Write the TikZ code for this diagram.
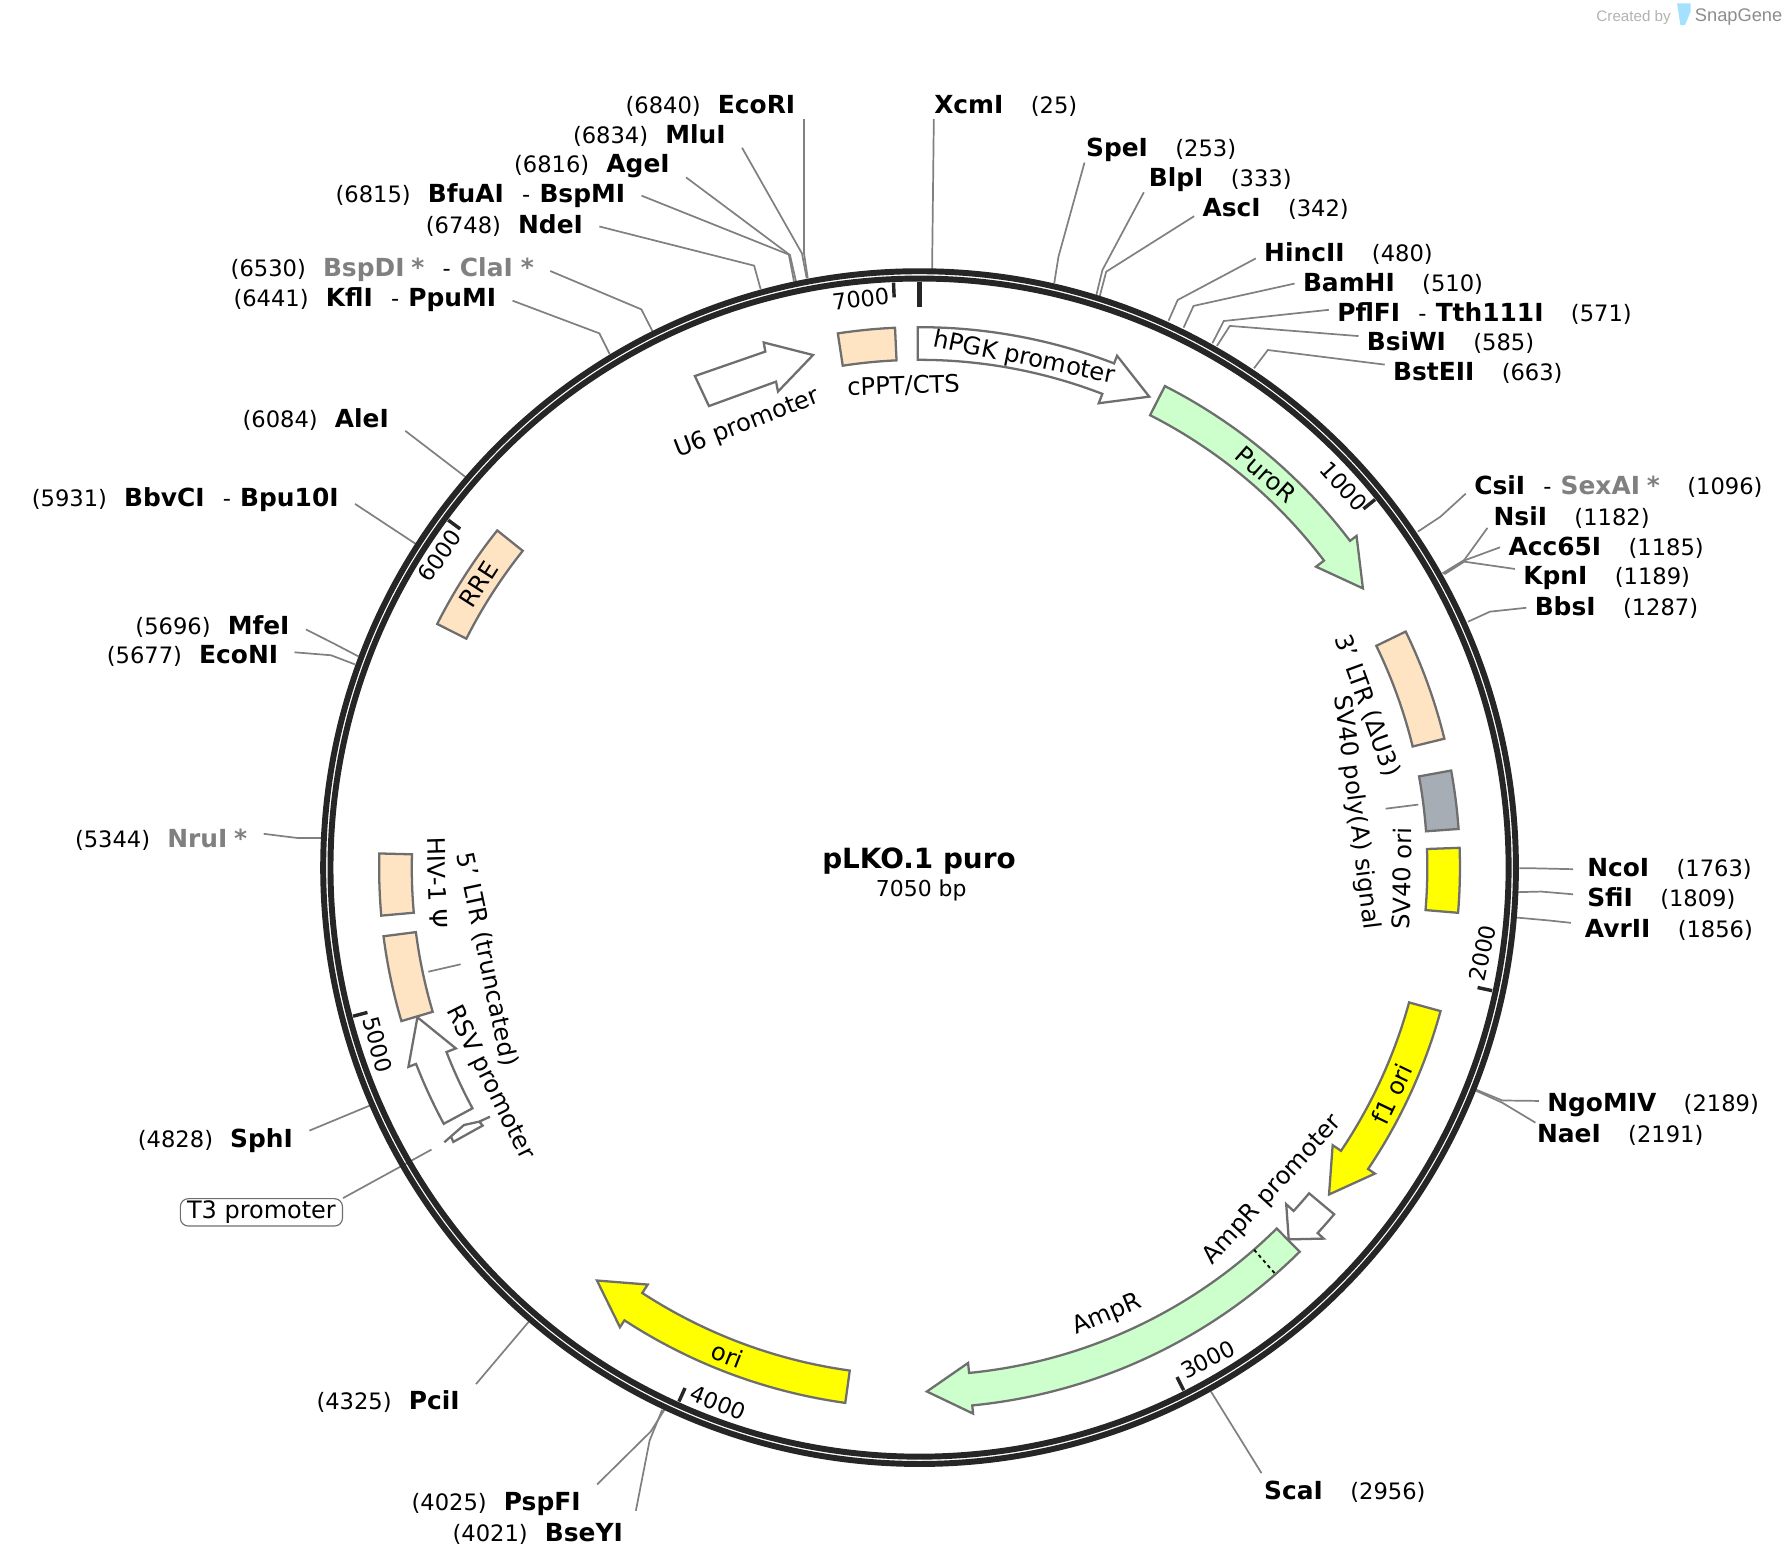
\documentclass[tikz,border=0pt]{standalone}
\usepackage{fontspec}
\setmainfont{DejaVu Sans}
\newfontfamily\logofont{Liberation Sans}
\usepackage{xcolor}
\usepackage{tikz}
\definecolor{ringcol}{HTML}{262626}
\definecolor{leadcol}{HTML}{808080}
\definecolor{edgecol}{HTML}{6E6E6E}
\definecolor{tancol}{HTML}{FFE4C4}
\definecolor{greencol}{HTML}{CCFFCC}
\definecolor{yellowcol}{HTML}{FFFF00}
\definecolor{slatecol}{HTML}{A6ADB5}
\tikzstyle{siteleft} = [anchor=east, yshift=-0.7pt, inner xsep=7pt, inner ysep=0pt, font=\fontsize{9.9}{12}\selectfont]
\tikzstyle{siteright} = [anchor=west, yshift=-0.7pt, inner xsep=3.5pt, inner ysep=0pt, font=\fontsize{9.9}{12}\selectfont]
\tikzstyle{leader} = [draw=leadcol, line width=0.75pt]
\tikzstyle{feature} = [draw=edgecol, line width=1pt, line join=miter]
\tikzstyle{flabel} = [inner sep=0pt, font=\fontsize{10.6}{12}\selectfont]
\tikzstyle{scalelabel} = [inner sep=0pt, font=\fontsize{9.8}{12}\selectfont]
\tikzstyle{tick} = [draw=ringcol, line width=1.5pt]
\newcommand{\enz}[1]{{\fontsize{10.9}{12}\selectfont\textbf{#1}}}
\newcommand{\off}[1]{{\fontsize{10.9}{12}\selectfont\textcolor{leadcol}{\textbf{#1}}}}
\newcommand{\lgap}{\hspace{7.5pt}}
\newcommand{\rgap}{\hspace{12pt}}
\newcommand{\dashgap}{\hspace{8pt}-\hspace{4pt}}
% a and b are angles clockwise from the top of the ring
\newcommand{\arcbox}[3]{\draw[feature, fill=#1] ({#2-90}:473.4) arc[start angle={#2-90}, end angle={#3-90}, radius=473.4] -- ({#3-90}:444.8) arc[start angle={#3-90}, end angle={#2-90}, radius=444.8] -- cycle;}
\newcommand{\arcarrow}[4]{\draw[feature, fill=#1] ({#2-90}:473.4) arc[start angle={#2-90}, end angle={#3-90}, radius=473.4] -- ({#3-90}:480.6) -- ({#4-90}:459) -- ({#3-90}:436) -- ({#3-90}:444.8) arc[start angle={#3-90}, end angle={#2-90}, radius=444.8] -- cycle;}

\begin{document}
\begin{tikzpicture}[x=0.5pt, y=-0.5pt]
	\useasboundingbox (0,0) rectangle (1568,1373.5);

	% logo
	\node (created) [inner sep=0pt, text=black!30, font=\logofont\fontsize{6.65}{8}\selectfont] at (1431,15.5) {Created by};
	\node (snapgene) [inner sep=0pt, text=black!45, font=\logofont\fontsize{8}{10}\selectfont] at (1523,15) {SnapGene};
	\fill [blue!35!cyan!35] (1469,3) -- (1481,3) -- (1481,10) -- (1476,22) -- (1472,22) -- cycle;

	% sites on the left
	\node (ecori) [siteleft] at (711,91) {(6840)\lgap\enz{EcoRI}};
	\node (mlui) [siteleft] at (650,117) {(6834)\lgap\enz{MluI}};
	\node (agei) [siteleft] at (601,144) {(6816)\lgap\enz{AgeI}};
	\node (bfuai) [siteleft] at (562,170) {(6815)\lgap\enz{BfuAI}\dashgap\enz{BspMI}};
	\node (ndei) [siteleft] at (525,196) {(6748)\lgap\enz{NdeI}};
	\node (clai) [siteleft] at (482,235) {(6530)\lgap\off{BspDI\hspace{3pt}*}\dashgap\off{ClaI\hspace{3.5pt}*}};
	\node (kfli) [siteleft] at (449,261) {(6441)\lgap\enz{KflI}\dashgap\enz{PpuMI}};
	\node (alei) [siteleft] at (355,366) {(6084)\lgap\enz{AleI}};
	\node (bbvci) [siteleft] at (311,436) {(5931)\lgap\enz{BbvCI}\dashgap\enz{Bpu10I}};
	\node (mfei) [siteleft] at (268,547) {(5696)\lgap\enz{MfeI}};
	\node (econi) [siteleft] at (258,573) {(5677)\lgap\enz{EcoNI}};
	\node (nrui) [siteleft] at (231,734) {(5344)\lgap\off{NruI\hspace{3pt}*}};
	\node (sphi) [siteleft] at (271,998) {(4828)\lgap\enz{SphI}};
	\node (pcii) [siteleft] at (417,1226) {(4325)\lgap\enz{PciI}};
	\node (pspfi) [siteleft] at (523,1316) {(4025)\lgap\enz{PspFI}};
	\node (bseyi) [siteleft] at (560,1342) {(4021)\lgap\enz{BseYI}};

	% sites on the right
	\node (xcmi) [siteright] at (811,91) {\enz{XcmI}\rgap(25)};
	\node (spei) [siteright] at (944,130) {\enz{SpeI}\rgap(253)};
	\node (blpi) [siteright] at (999,156) {\enz{BlpI}\rgap(333)};
	\node (asci) [siteright] at (1046,182) {\enz{AscI}\rgap(342)};
	\node (hincii) [siteright] at (1100,221) {\enz{HincII}\rgap(480)};
	\node (bamhi) [siteright] at (1134,247) {\enz{BamHI}\rgap(510)};
	\node (pflfi) [siteright] at (1164,273) {\enz{PflFI}\dashgap\enz{Tth111I}\rgap(571)};
	\node (bsiwi) [siteright] at (1190,299) {\enz{BsiWI}\rgap(585)};
	\node (bsteii) [siteright] at (1213,325) {\enz{BstEII}\rgap(663)};
	\node (csii) [siteright] at (1284,425) {\enz{CsiI}\dashgap\off{SexAI\hspace{3pt}*}\rgap(1096)};
	\node (nsii) [siteright] at (1301,452) {\enz{NsiI}\rgap(1182)};
	\node (acc) [siteright] at (1314,478) {\enz{Acc65I}\rgap(1185)};
	\node (kpni) [siteright] at (1327,505) {\enz{KpnI}\rgap(1189)};
	\node (bbsi) [siteright] at (1337,531) {\enz{BbsI}\rgap(1287)};
	\node (ncoi) [siteright] at (1383,760) {\enz{NcoI}\rgap(1763)};
	\node (sfii) [siteright] at (1383,786) {\enz{SfiI}\rgap(1809)};
	\node (avrii) [siteright] at (1381,813) {\enz{AvrII}\rgap(1856)};
	\node (ngomiv) [siteright] at (1348,967) {\enz{NgoMIV}\rgap(2189)};
	\node (naei) [siteright] at (1339,993) {\enz{NaeI}\rgap(2191)};
	\node (scai) [siteright] at (1100,1305) {\enz{ScaI}\rgap(2956)};

	% knees and ends on the ring
	\coordinate (ecoriA) at (704.3,222); \coordinate (ecoriB) at (707.6,243.8);
	\coordinate (mluiA) at (702.5,222); \coordinate (mluiB) at (706.6,243.7);
	\coordinate (ageiA) at (692,223.4); \coordinate (ageiB) at (697.3,246.7);
	\coordinate (bfuaiA) at (691,223); \coordinate (bfuaiB) at (695.5,246.5);
	\coordinate (ndeiA) at (660.6,232.7); \coordinate (ndeiB) at (666.3,253.3);
	\coordinate (claiA) at (561.8,271); \coordinate (claiB) at (571.5,290);
	\coordinate (kfliA) at (525,292); \coordinate (kfliB) at (534,310);
	\coordinate (aleiB) at (408,418);
	\coordinate (bbvciB) at (365,477);
	\coordinate (mfeiA) at (291,563); \coordinate (mfeiB) at (314,575);
	\coordinate (econiA) at (290,574); \coordinate (econiB) at (311,582);
	\coordinate (nruiA) at (260,734); \coordinate (nruiB) at (282,734);
	\coordinate (sphiB) at (325,968);
	\coordinate (pciiB) at (463,1158);
	\coordinate (pspfiA) at (570,1254); \coordinate (pspfiB) at (582,1235);
	\coordinate (bseyiA) at (569,1262); \coordinate (bseyiB) at (580,1235);
	\coordinate (xcmiB) at (816.5,236);
	\coordinate (speiA) at (927.2,224.8); \coordinate (speiB) at (923.5,248);
	\coordinate (blpiA) at (965.7,236.5); \coordinate (blpiB) at (960.4,258.3);
	\coordinate (asciA) at (969,238); \coordinate (asciB) at (963.4,259.3);
	\coordinate (hinciiA) at (1031.6,262.8); \coordinate (hinciiB) at (1023.6,281);
	\coordinate (bamhiA) at (1045.5,268); \coordinate (bamhiB) at (1036.8,287);
	\coordinate (pflfiA) at (1072,281.2); \coordinate (pflfiB) at (1062,300.7);
	\coordinate (bsiwiA) at (1077.3,285.5); \coordinate (bsiwiB) at (1066,303);
	\coordinate (bsteiiA) at (1110.6,306.6); \coordinate (bsteiiB) at (1098.5,322.6);
	\coordinate (csiiA) at (1261.8,452.6); \coordinate (csiiB) at (1242,465.7);
	\coordinate (nsiiA) at (1282.6,490.6); \coordinate (nsiiB) at (1263.6,502.2);
	\coordinate (accA) at (1282.6,491); \coordinate (accB) at (1264.4,502.6);
	\coordinate (kpniA) at (1282.6,492); \coordinate (kpniB) at (1265.3,503);
	\coordinate (bbsiA) at (1305.2,535.8); \coordinate (bbsiB) at (1285.9,544.6);
	\coordinate (ncoiA) at (1343,760.6); \coordinate (ncoiB) at (1330.9,760.6);
	\coordinate (sfiiA) at (1350,781); \coordinate (sfiiB) at (1329.5,781.5);
	\coordinate (avriiA) at (1357.7,806.4); \coordinate (avriiB) at (1329,803.8);
	\coordinate (ngomivA) at (1316,964); \coordinate (ngomivB) at (1293,954.5);
	\coordinate (naeiA) at (1316,966); \coordinate (naeiB) at (1293,955.5);
	\coordinate (scaiB) at (1060.8,1219);

	\draw [leader] ([shift={(-3.35pt,-6pt)}]ecori.east) -- (ecoriA) -- (ecoriB);
	\draw [leader] ([yshift=-5.5pt]mlui.east) -- (mluiA) -- (mluiB);
	\draw [leader] ([yshift=-5pt]agei.east) -- (ageiA) -- (ageiB);
	\draw [leader] (bfuai.east) -- (bfuaiA) -- (bfuaiB);
	\draw [leader] ([yshift=-0.5pt]ndei.east) -- (ndeiA) -- (ndeiB);
	\draw [leader] ([yshift=-0.5pt]clai.east) -- (claiA) -- (claiB);
	\draw [leader] ([yshift=-0.5pt]kfli.east) -- (kfliA) -- (kfliB);
	\draw [leader] ([yshift=-5pt]alei.east) -- (aleiB);
	\draw [leader] ([yshift=-2pt]bbvci.east) -- (bbvciB);
	\draw [leader] ([yshift=-1.5pt]mfei.east) -- (mfeiA) -- (mfeiB);
	\draw [leader] ([yshift=1.5pt]econi.east) -- (econiA) -- (econiB);
	\draw [leader] ([yshift=2.5pt]nrui.east) -- (nruiA) -- (nruiB);
	\draw [leader] ([yshift=4.5pt]sphi.east) -- (sphiB);
	\draw [leader] ([yshift=7.5pt]pcii.east) -- (pciiB);
	\draw [leader] ([yshift=8.5pt]pspfi.east) -- (pspfiA) -- (pspfiB);
	\draw [leader] ([shift={(-1.5pt,10pt)}]bseyi.east) -- (bseyiA) -- (bseyiB);

	\draw [leader] ([shift={(3.5pt,-6pt)}]xcmi.west) -- (xcmiB);
	\draw [leader] ([shift={(3pt,-5.5pt)}]spei.west) -- (speiA) -- (speiB);
	\draw [leader] ([shift={(1.5pt,-5.5pt)}]blpi.west) -- (blpiA) -- (blpiB);
	\draw [leader] ([yshift=-3pt]asci.west) -- (asciA) -- (asciB);
	\draw [leader] ([yshift=-2pt]hincii.west) -- (hinciiA) -- (hinciiB);
	\draw [leader] (bamhi.west) -- (bamhiA) -- (bamhiB);
	\draw [leader] ([yshift=1.5pt]pflfi.west) -- (pflfiA) -- (pflfiB);
	\draw [leader] ([yshift=3pt]bsiwi.west) -- (bsiwiA) -- (bsiwiB);
	\draw [leader] ([yshift=3.5pt]bsteii.west) -- (bsteiiA) -- (bsteiiB);
	\draw [leader] ([yshift=-3pt]csii.west) -- (csiiA) -- (csiiB);
	\draw [leader] ([shift={(1pt,-4.5pt)}]nsii.west) -- (nsiiA) -- (nsiiB);
	\draw [leader] (acc.west) -- (accA) -- (accB);
	\draw [leader] ([yshift=4pt]kpni.west) -- (kpniA) -- (kpniB);
	\draw [leader] (bbsi.west) -- (bbsiA) -- (bbsiB);
	\draw [leader] ([xshift=-2.5pt]ncoi.west) -- (ncoiA) -- (ncoiB);
	\draw [leader] ([shift={(-2.5pt,2pt)}]sfii.west) -- (sfiiA) -- (sfiiB);
	\draw [leader] ([shift={(-2.5pt,3pt)}]avrii.west) -- (avriiA) -- (avriiB);
	\draw [leader] ([yshift=2pt]ngomiv.west) -- (ngomivA) -- (ngomivB);
	\draw [leader] ([shift={(3pt,5.5pt)}]naei.west) -- (naeiA) -- (naeiB);
	\draw [leader] ([shift={(2.5pt,8pt)}]scai.west) -- (scaiB);

	% T3 promoter runs under the ring
	\node (t3) [draw=edgecol, line width=0.5pt, rounded corners=3.5pt, minimum width=71pt, minimum height=12pt, inner sep=0pt, font=\fontsize{10.5}{12}\selectfont] at (229,1062) {T3 promoter};
	\coordinate (t3A) at (378,1007);
	\draw [leader] (t3.north east) -- (t3A);

	% feature leaders
	\coordinate (polyaA) at (1242.4,704.8); \coordinate (polyaB) at (1213.8,708.4);
	\coordinate (ltrA) at (375.2,851.2); \coordinate (ltrB) at (403.5,844.7);
	\draw [leader] (polyaA) -- (polyaB);
	\draw [leader] (ltrA) -- (ltrB);

	\begin{scope}[shift={(805.5,760)}]
		\draw [draw=ringcol, line width=2.6pt] (0,0) circle [radius=522.4];
		\draw [draw=ringcol, line width=2.6pt] (0,0) circle [radius=516];

		% scale marks
		\draw [tick, line width=2.3pt] (-90:513) -- (-90:491);
		\draw [tick] (-92.55:513) -- (-92.55:500);
		\draw [tick] (-38.94:513) -- (-38.94:500);
		\draw [tick] (12.13:513) -- (12.13:500);
		\draw [tick] (63.19:513) -- (63.19:500);
		\draw [tick] (114.26:513) -- (114.26:500);
		\draw [tick] (165.3:513) -- (165.3:500);
		\draw [tick] (216.4:513) -- (216.4:500);

		% features
		\arcbox{tancol}{-8.7}{-2.6}
		\arcarrow{white}{-0.2}{21.1}{26}
		\arcarrow{greencol}{27}{52.8}{57.8}
		\arcbox{tancol}{64.1}{76.2}
		\arcbox{slatecol}{79.65}{85.9}
		\arcbox{yellowcol}{87.9}{94.8}
		\arcarrow{yellowcol}{105.4}{123.9}{128.6}
		\arcarrow{white}{129.9}{132.55}{135.2}
		\arcarrow{greencol}{135.3}{174.4}{179.2}
		\arcarrow{yellowcol}{187.9}{213.1}{218}
		\arcarrow{white}{241.7}{248.7}{253.4}
		\arcbox{tancol}{253.5}{262.7}
		\arcbox{tancol}{264.9}{271.5}
		\arcbox{tancol}{-63.2}{-51.4}
		\draw [black, line width=0.8pt, dash pattern=on 1.5pt off 1.5pt] (48.8:445) -- (48.8:473);
	\end{scope}

	% small T3 arrow, not on the track
	\coordinate (t3B) at (429.2,978.2);
	\coordinate (t3C) at (419.9,982.5);
	\draw [feature, fill=white] (389.2,1000.6) -- (406.4,985.5) -- (t3C) -- (422.8,986) -- (397.1,1000.3) -- (395,995.5) -- cycle;
	\draw [feature] (t3C) -- (t3B);

	% U6 arrow
	\draw [feature, fill=white] (608.7,329.4) -- (621,355.7) -- (679.8,334.3) -- (681.5,343) -- (712.2,311) -- (669,300) -- (670.4,308) -- cycle;

	\begin{scope}[shift={(805.5,760)}]
		\node (hpgk) [flabel, rotate=-11.6] at (-78.4:455.5) {hPGK promoter};
		\node (u6) [flabel, rotate=21.2] at (-111.2:417) {U6 promoter};
		\node (cppt) [flabel, rotate=1.9] at (-91.9:422) {cPPT/CTS};
		\node (puror) [flabel, rotate=-41.4] at (-48.6:459) {PuroR};
		\node (rre) [flabel, rotate=57.3] at (-147.3:459) {RRE};
		\node (ltrthree) [flabel, rotate=-70.1] at (-19.9:417) {3' LTR (ΔU3)};
		\node (polya) [flabel, rotate=-82.8] at (-7.2:385.5) {SV40 poly(A) signal};
		\node (svori) [flabel, rotate=88.7] at (1.3:422.6) {SV40 ori};
		\node (fori) [flabel, rotate=64.4] at (25.6:459) {f1 ori};
		\node (amppro) [flabel, rotate=47.6] at (42.4:419) {AmpR promoter};
		\node (ampr) [flabel, rotate=22.8] at (67.2:425) {AmpR};
		\node (ori) [flabel, rotate=-21.5] at (111.5:459) {ori};
		\node (rsv) [flabel, rotate=-63.4] at (153.4:421) {RSV promoter};
		\node (ltrfive) [flabel, rotate=-78] at (168:387.5) {5' LTR (truncated)};
		\node (hiv) [flabel, rotate=-88.2] at (178.2:422.7) {HIV-1 Ψ};
	\end{scope}

	% scale labels
	\node (sevenk) [scalelabel, rotate=7] at (754,262) {7000};
	\node (onek) [scalelabel, rotate=-48] at (1177,426) {1000};
	\node (twok) [scalelabel, rotate=78] at (1299,835) {2000};
	\node (threek) [scalelabel, rotate=27] at (1058,1191) {3000};
	\node (fourk) [scalelabel, rotate=-22] at (629,1229) {4000};
	\node (fivek) [scalelabel, rotate=-75] at (331,915) {5000};
	\node (sixk) [scalelabel, rotate=55] at (385,487) {6000};

	% centre
	\node (title) [inner sep=0pt, font=\fontsize{12.2}{14}\selectfont\bfseries] at (805,754) {pLKO.1 puro};
	\node (size) [inner sep=0pt, font=\fontsize{9.6}{12}\selectfont] at (807,780) {7050 bp};
\end{tikzpicture}
\end{document}
